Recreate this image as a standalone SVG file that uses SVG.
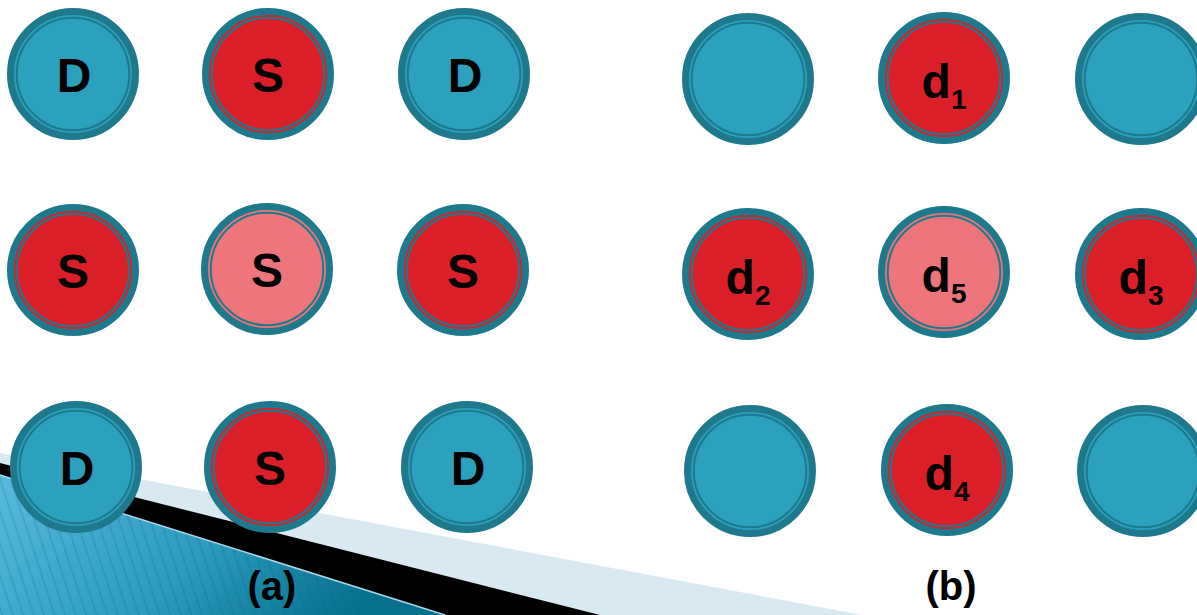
<svg xmlns="http://www.w3.org/2000/svg" width="1197" height="615" viewBox="0 0 1197 615">
<style>
.ring{stroke:#1e798c;stroke-width:7}
.inner{fill:none;stroke:#1e798c;stroke-width:2}
.teal{fill:#2ba1bd}
.red{fill:#da1f28}
.pink{fill:#ee767b}
.lbl{font-family:"Liberation Sans",Arial,sans-serif;font-weight:bold;font-size:48px;fill:#000;text-anchor:middle}
.cap{font-family:"Liberation Sans",Arial,sans-serif;font-weight:bold;font-size:40px;fill:#000;text-anchor:middle}
</style>
<defs>
<linearGradient id="blueGrad" x1="0" y1="0" x2="1" y2="0.3">
<stop offset="0" stop-color="#58badd"/>
<stop offset="0.55" stop-color="#2c9cc0"/>
<stop offset="1" stop-color="#06708d"/>
</linearGradient>
<pattern id="stripes" patternUnits="userSpaceOnUse" width="10" height="10" patternTransform="rotate(-18)">
<line x1="2" y1="0" x2="2" y2="10" stroke="#0b5f7a" stroke-opacity="0.22" stroke-width="1.6"/>
</pattern>
</defs>
<rect width="1197" height="615" fill="#ffffff"/>
<g id="background">
<polygon points="0,453 862,615 0,615" fill="#d8e9f1"/>
<polygon points="0,463 600,615 0,615" fill="#000000"/>
<polygon points="0,475 445,615 0,615" fill="url(#blueGrad)"/>
<polygon points="0,475 445,615 0,615" fill="url(#stripes)"/>
<line x1="0" y1="475" x2="445" y2="615" stroke="#a9d9ea" stroke-width="1.5"/>
</g>
<g id="a-D1"><circle cx="73" cy="74" r="62.5" class="ring teal"/><circle cx="73" cy="74" r="56.3" class="inner"/><text x="74" y="92" class="lbl">D</text></g>
<g id="a-S1"><circle cx="268" cy="74" r="62.5" class="ring red"/><circle cx="268" cy="74" r="56.3" class="inner"/><text x="268" y="92" class="lbl">S</text></g>
<g id="a-D2"><circle cx="464" cy="74" r="62.5" class="ring teal"/><circle cx="464" cy="74" r="56.3" class="inner"/><text x="465" y="92" class="lbl">D</text></g>
<g id="a-S2"><circle cx="73" cy="270" r="62.5" class="ring red"/><circle cx="73" cy="270" r="56.3" class="inner"/><text x="73" y="288" class="lbl">S</text></g>
<g id="a-S5"><circle cx="267" cy="269" r="62.5" class="ring pink"/><circle cx="267" cy="269" r="56.3" class="inner"/><text x="267" y="287" class="lbl">S</text></g>
<g id="a-S3"><circle cx="463" cy="270" r="62.5" class="ring red"/><circle cx="463" cy="270" r="56.3" class="inner"/><text x="463" y="288" class="lbl">S</text></g>
<g id="a-D3"><circle cx="76" cy="467" r="62.5" class="ring teal"/><circle cx="76" cy="467" r="56.3" class="inner"/><text x="77" y="485" class="lbl">D</text></g>
<g id="a-S4"><circle cx="270" cy="467" r="62.5" class="ring red"/><circle cx="270" cy="467" r="56.3" class="inner"/><text x="270" y="485" class="lbl">S</text></g>
<g id="a-D4"><circle cx="467" cy="467" r="62.5" class="ring teal"/><circle cx="467" cy="467" r="56.3" class="inner"/><text x="468" y="485" class="lbl">D</text></g>
<g id="label-a"><text x="272" y="600" class="cap">(a)</text></g>
<g id="b-n1"><circle cx="748" cy="79" r="62.5" class="ring teal"/><circle cx="748" cy="79" r="56.3" class="inner"/></g>
<g id="b-d1"><circle cx="944" cy="78" r="62.5" class="ring red"/><circle cx="944" cy="78" r="56.3" class="inner"/><text x="944" y="98" class="lbl">d<tspan font-size="28" dy="11">1</tspan></text></g>
<g id="b-n3"><circle cx="1141" cy="79" r="62.5" class="ring teal"/><circle cx="1141" cy="79" r="56.3" class="inner"/></g>
<g id="b-d2"><circle cx="748" cy="274" r="62.5" class="ring red"/><circle cx="748" cy="274" r="56.3" class="inner"/><text x="748" y="294" class="lbl">d<tspan font-size="28" dy="11">2</tspan></text></g>
<g id="b-d5"><circle cx="944" cy="272" r="62.5" class="ring pink"/><circle cx="944" cy="272" r="56.3" class="inner"/><text x="944" y="292" class="lbl">d<tspan font-size="28" dy="11">5</tspan></text></g>
<g id="b-d3"><circle cx="1141" cy="274" r="62.5" class="ring red"/><circle cx="1141" cy="274" r="56.3" class="inner"/><text x="1141" y="294" class="lbl">d<tspan font-size="28" dy="11">3</tspan></text></g>
<g id="b-n7"><circle cx="750" cy="471" r="62.5" class="ring teal"/><circle cx="750" cy="471" r="56.3" class="inner"/></g>
<g id="b-d4"><circle cx="947" cy="470" r="62.5" class="ring red"/><circle cx="947" cy="470" r="56.3" class="inner"/><text x="947" y="490" class="lbl">d<tspan font-size="28" dy="11">4</tspan></text></g>
<g id="b-n9"><circle cx="1143" cy="471" r="62.5" class="ring teal"/><circle cx="1143" cy="471" r="56.3" class="inner"/></g>
<g id="label-b"><text x="951" y="600" class="cap">(b)</text></g>
</svg>
